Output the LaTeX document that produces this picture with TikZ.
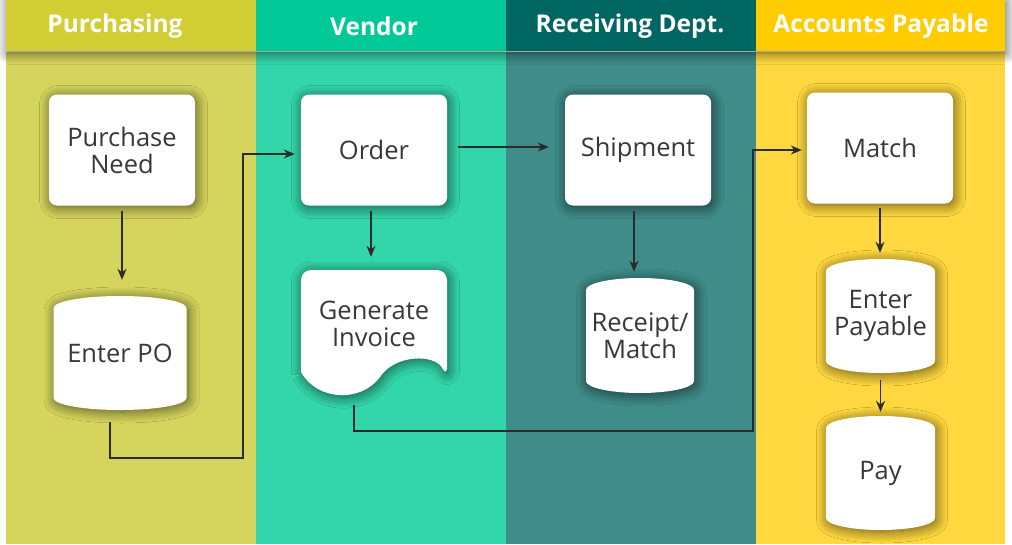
\documentclass[tikz,border=0pt]{standalone}
\usepackage{fontspec}
\setmainfont{Open Sans}
\usetikzlibrary{shadows.blur, arrows.meta}

\definecolor{purH}{HTML}{D1CE33}
\definecolor{purB}{HTML}{D5D55D}
\definecolor{venH}{HTML}{00C896}
\definecolor{venB}{HTML}{33D5AA}
\definecolor{recH}{HTML}{006662}
\definecolor{recB}{HTML}{3F8C88}
\definecolor{apH}{HTML}{FFCC00}
\definecolor{apB}{HTML}{FFD83F}
\definecolor{ink}{HTML}{383838}
\definecolor{wire}{HTML}{2B2B2B}

\tikzset{
  drop/.style={blur shadow={shadow xshift=1.5pt, shadow yshift=-2pt, shadow blur radius=11pt, shadow blur steps=14, shadow opacity=60}},
  txt/.style={text=ink, align=center, inner sep=0pt, font=\fontsize{25.5}{27}\selectfont},
  box/.style={txt, rectangle, rounded corners=8pt, fill=white, drop, minimum width=146pt, minimum height=111pt},
  lanehead/.style={text=white, font=\fontsize{24.5}{27}\selectfont\bfseries},
  flow/.style={->, line width=1.6pt, draw=wire},
}

% barrel shape: centre x, centre y, half width, half height
\newcommand{\drum}[4]{%
  \fill[white, drop] (#1-#3,#2-#4+12) -- (#1-#3,#2+#4-12)
    arc[start angle=180, end angle=360, x radius=#3pt, y radius=12pt]
    -- (#1+#3,#2-#4+12)
    arc[start angle=0, end angle=180, x radius=#3pt, y radius=12pt] -- cycle;}

\begin{document}
\begin{tikzpicture}[x=1pt, y=-1pt, >={Stealth[length=11pt, width=9pt]}]
  \useasboundingbox (0,0) rectangle (1012,544);

  % lanes
  \foreach \lx/\lw/\bc in {6/250/purB, 256/250/venB, 506/250/recB, 756/249/apB}
    \fill[\bc] (\lx,52) rectangle ++(\lw,492);

  % header band
  \fill[purH, drop] (6,0) rectangle (1005,51);
  \foreach \lx/\lw/\hc in {256/250/venH, 506/250/recH, 756/249/apH}
    \fill[\hc] (\lx,0) rectangle ++(\lw,51);

  \node[lanehead] (hpur) at (115,26) {Purchasing};
  \node[lanehead] (hven) at (374,26) {Vendor};
  \node[lanehead] (hrec) at (630,26) {Receiving Dept.};
  \node[lanehead] (hap) at (881,26) {Accounts Payable};

  % boxes
  \node[box] (need) at (122,150) {Purchase\\Need};
  \node[box] (order) at (374,150) {Order};
  \node[box] (ship) at (638,150) {Shipment};
  \node[box] (match) at (880,148) {Match};

  % stores
  \drum{120}{353}{66.5}{57}
  \node[txt, minimum width=133pt, minimum height=114pt] (po) at (120,353) {Enter PO};
  \drum{640}{335.5}{54}{57.5}
  \node[txt, minimum width=108pt, minimum height=115pt] (rec) at (640,335.5) {Receipt/\\Match};
  \drum{880.5}{316}{54.5}{57}
  \node[txt, minimum width=109pt, minimum height=114pt] (epay) at (880.5,316) {Enter\\Payable};
  \drum{880.5}{473}{54.5}{57}
  \node[txt, minimum width=109pt, minimum height=114pt] (pay) at (880.5,473) {Pay};

  % invoice
  \fill[white, drop] (301,372) [rounded corners=10pt] -- (301,270) -- (447,270) -- (447,377)
    [sharp corners] .. controls (435,354) and (395,354) .. (380,377)
    .. controls (362,402) and (318,402) .. (301,372);
  \node[txt, minimum width=146pt, minimum height=108pt] (inv) at (374,324) {Generate\\Invoice};

  \coordinate (c1) at (243,458);
  \coordinate (c2) at (753,431);
  \coordinate (invfoot) at (354,396);

  % flow
  \draw[flow, shorten <=5pt, shorten >=16pt] (need.south) -- (need.south |- po.north);
  \draw[flow, shorten <=12pt, shorten >=6pt] ([xshift=-10pt]po.south) |- (c1) |- ([yshift=-4pt]order.west);
  \draw[flow, shorten <=11pt, shorten >=16pt] ([yshift=3pt]order.east) -- ([yshift=3pt]ship.west);
  \draw[flow, shorten <=5pt, shorten >=13pt] ([xshift=-3pt]order.south) -- ([xshift=-3pt]order.south |- inv.north);
  \draw[flow, shorten <=5pt, shorten >=6pt] ([xshift=-4pt]ship.south) -- ([xshift=-4pt]ship.south |- rec.north);
  \draw[flow, shorten <=9pt, shorten >=5pt] (invfoot) |- (c2) |- ([yshift=-2pt]match.west);
  \draw[flow, shorten <=4pt, shorten >=6pt] (match.south) -- (match.south |- epay.north);
  \draw[flow, shorten <=7pt, shorten >=4pt] (epay.south) -- (pay.north);
\end{tikzpicture}
\end{document}
